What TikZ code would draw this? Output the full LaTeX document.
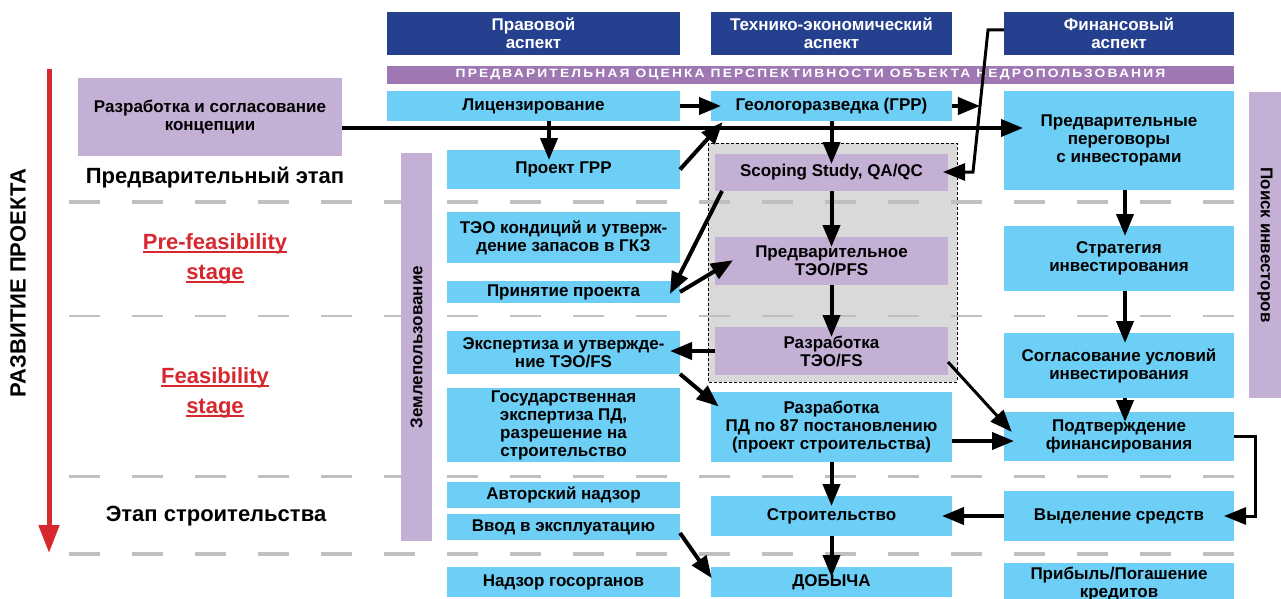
\documentclass[tikz,border=0pt]{standalone}
\usepackage{fontspec}
\setmainfont{Liberation Sans}
\usetikzlibrary{arrows.meta,calc}

\definecolor{hdrblue}{HTML}{25408F}
\definecolor{cellblue}{HTML}{6DCFF6}
\definecolor{celllilac}{HTML}{C5B0D5}
\definecolor{bandlilac}{HTML}{9E77B3}
\definecolor{stagered}{HTML}{D7282F}
\definecolor{dashgray}{HTML}{BFBFBF}
\definecolor{zonegray}{HTML}{D9D9D9}

\newcommand{\stageul}[1]{\setbox0\hbox{#1}\rlap{\rule[-3pt]{\wd0}{2pt}}\box0}

\begin{document}
\begin{tikzpicture}[x=1pt, y=-1pt,
  cell/.style={inner sep=0pt, outer sep=0pt, align=center, font=\fontsize{17}{18}\selectfont\bfseries},
  hdrcell/.style={cell, fill=hdrblue, text=white},
  bluecell/.style={cell, fill=cellblue},
  lilaccell/.style={cell, fill=celllilac},
  stage/.style={align=center, font=\fontsize{22}{30}\selectfont\bfseries},
  arr/.style={line width=4pt, -{Triangle[length=22pt,width=17pt]}, shorten >=-10pt},
  stageline/.style={dashgray, dash pattern=on 31pt off 32pt}
]
\useasboundingbox (0,0) rectangle (1281,599);

\draw[line width=0.8pt, fill=zonegray, dash pattern=on 3pt off 2pt] (708,143) rectangle (957,382);

\foreach \yy/\lw in {202/4.5, 316/2.7, 476/3, 554/4.5}
  \draw[stageline, line width=\lw] (69,\yy) -- (1234,\yy);

% project axis
\coordinate (devtop) at (49,69);
\coordinate (devend) at (49,553);
\draw[stagered, line width=5pt, -{Triangle[length=28pt,width=20pt]}] (devtop) -- (devend);
\node[rotate=90, font=\fontsize{22}{24}\selectfont\bfseries] (devlabel) at (18,283) {РАЗВИТИЕ ПРОЕКТА};

% stages
\node[stage] (prelim) at (215,178) {Предварительный этап};
\node[stage, text=stagered] (prefeas) at (215,259) {\stageul{Pre-feasibility}\\\stageul{stage}};
\node[stage, text=stagered] (feas) at (215,393) {\stageul{Feasibility}\\\stageul{stage}};
\node[stage] (build) at (216,516) {Этап строительства};

% headers
\node[hdrcell, minimum width=293pt, minimum height=43pt] (legal) at (533.5,33.5) {Правовой\\аспект};
\node[hdrcell, minimum width=241pt, minimum height=43pt] (tech) at (831.5,33.5) {Технико-экономический\\аспект};
\node[hdrcell, minimum width=230pt, minimum height=43pt] (fin) at (1119,33.5) {Финансовый\\аспект};
\node[cell, fill=bandlilac, text=white, minimum width=847pt, minimum height=18pt,
  font={\fontsize{12}{13}\selectfont\bfseries\addfontfeatures{FakeStretch=1.15,LetterSpace=18}}] (band) at (810.5,75)
  {ПРЕДВАРИТЕЛЬНАЯ ОЦЕНКА ПЕРСПЕКТИВНОСТИ ОБЪЕКТА НЕДРОПОЛЬЗОВАНИЯ};

\node[lilaccell, minimum width=264pt, minimum height=78pt] (concept) at (210,117) {Разработка и согласование\\концепции};
\node[lilaccell, rotate=90, minimum width=388pt, minimum height=31pt] (land) at (416.5,347) {Землепользование};
\node[lilaccell, rotate=-90, minimum width=306pt, minimum height=32pt] (invest) at (1265,245) {Поиск инвесторов};

% legal column
\node[bluecell, minimum width=293pt, minimum height=30pt] (licence) at (533.5,106) {Лицензирование};
\node[bluecell, minimum width=233pt, minimum height=39pt] (grrplan) at (563.5,169.5) {Проект ГРР};
\node[bluecell, minimum width=233pt, minimum height=51pt] (reserves) at (563.5,237.5) {ТЭО кондиций и утверж-\\дение запасов в ГКЗ};
\node[bluecell, minimum width=233pt, minimum height=22pt] (accept) at (563.5,292) {Принятие проекта};
\node[bluecell, minimum width=233pt, minimum height=43pt] (fsreview) at (563.5,352.5) {Экспертиза и утвержде-\\ние ТЭО/FS};
\node[bluecell, minimum width=233pt, minimum height=74pt] (statereview) at (563.5,425) {Государственная\\экспертиза ПД,\\разрешение на\\строительство};
\node[bluecell, minimum width=233pt, minimum height=26pt] (authsup) at (563.5,495) {Авторский надзор};
\node[bluecell, minimum width=233pt, minimum height=26pt] (commission) at (563.5,527) {Ввод в эксплуатацию};
\node[bluecell, minimum width=233pt, minimum height=30pt] (govsup) at (563.5,582) {Надзор госорганов};

% technical column
\node[bluecell, minimum width=241pt, minimum height=30pt] (explor) at (831.5,106) {Геологоразведка (ГРР)};
\node[lilaccell, minimum width=233pt, minimum height=37pt] (scoping) at (831.5,172.5) {Scoping Study, QA/QC};
\node[lilaccell, minimum width=233pt, minimum height=48pt] (pfs) at (831.5,261) {Предварительное\\ТЭО/PFS};
\node[lilaccell, minimum width=233pt, minimum height=48pt] (fs) at (831.5,351) {Разработка\\ТЭО/FS};
\node[bluecell, minimum width=241pt, minimum height=70pt] (design) at (831.5,427) {Разработка\\ПД по 87 постановлению\\(проект строительства)};
\node[bluecell, minimum width=241pt, minimum height=40pt] (constr) at (831.5,516) {Строительство};
\node[bluecell, minimum width=241pt, minimum height=30pt] (mining) at (831.5,582) {ДОБЫЧА};

% financial column
\node[bluecell, minimum width=230pt, minimum height=99pt] (talks) at (1119,140.5) {Предварительные\\переговоры\\с инвесторами};
\node[bluecell, minimum width=230pt, minimum height=65pt] (strategy) at (1119,258.5) {Стратегия\\инвестирования};
\node[bluecell, minimum width=230pt, minimum height=65pt] (terms) at (1119,365.5) {Согласование условий\\инвестирования};
\node[bluecell, minimum width=230pt, minimum height=49pt] (confirm) at (1119,436.5) {Подтверждение\\финансирования};
\node[bluecell, minimum width=230pt, minimum height=50pt] (funds) at (1119,516) {Выделение средств};
\node[bluecell, minimum width=230pt, minimum height=42pt] (profit) at (1119,584) {Прибыль/Погашение\\кредитов};

% connectors
\draw[arr] (licence) -- (explor);
\draw[arr] ([xshift=15.5pt]licence.south) -- ([xshift=-14.5pt]grrplan.north);
\draw[arr, shorten >=-19pt] ([yshift=-11pt]concept.east) -- ([yshift=12.5pt]talks.west);
\draw[arr] (grrplan.east) -- ([xshift=5pt,yshift=-8.5pt]explor.south west);
\draw[arr] (explor) -- (scoping);
\draw[arr] (scoping) -- (pfs);
\draw[arr] (pfs) -- (fs);
\draw[arr] ([xshift=7pt]scoping.south west) -- ([xshift=-5.5pt,yshift=-4pt]accept.north east);
\draw[arr] (accept.east) -- ([xshift=9.5pt,yshift=-4.3pt]pfs.west);
\draw[arr] (fs.west) -- (fs.west -| fsreview.east);
\draw[arr] (fsreview.south east) -- ([yshift=-8pt]design.north west);
\draw[arr, line width=3pt] ([yshift=-11pt]fs.east) -- ([xshift=1pt,yshift=12pt]confirm.west);
\draw[arr] ([yshift=-14pt]design.east) -- ([yshift=-4.5pt]confirm.west);
\draw[arr] (design) -- (constr);
\draw[arr] (constr) -- (mining);
\draw[arr] ([yshift=-6pt]commission.east) -- ([xshift=-5pt,yshift=-3pt]mining.north west);
\draw[arr] (funds) -- (constr);
\draw[arr, line width=3pt] (confirm.east) -- ++(21,0) |- (funds.east);
\draw[arr] ([xshift=6pt]talks.south) -- ([xshift=6pt]strategy.north);
\draw[arr] ([xshift=6pt]strategy.south) -- ([xshift=6pt]terms.north);
\draw[arr] ([xshift=6pt]terms.south) -- ([xshift=6pt]confirm.north);

\coordinate (finbend) at (988,30);
\coordinate (finfoot) at (973,172);
\coordinate (finjoin) at ($(finbend)!0.535!(finfoot)$);
\draw[arr, line width=3pt, shorten >=-5pt] ([yshift=3.5pt]fin.west) -- (finbend) -- (finfoot) -- (finfoot -| scoping.east);
\draw[arr, shorten >=0pt] (explor.east) -- (explor.east -| finjoin);

\end{tikzpicture}
\end{document}
